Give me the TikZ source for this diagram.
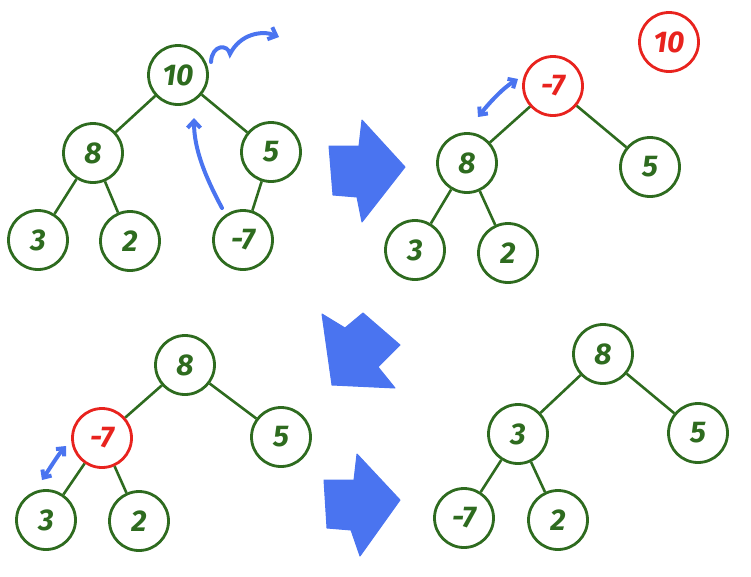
\documentclass[tikz,border=0pt]{standalone}
\usepackage{fontspec}
\setmainfont{Fira Sans}
\usetikzlibrary{arrows.meta}
\definecolor{tgreen}{HTML}{2E6B1F}
\definecolor{tred}{HTML}{E8231E}
\definecolor{tblue}{HTML}{4A74F0}
\begin{document}
\begin{tikzpicture}[x=1pt,y=-1pt,
  hnode/.style={circle,draw=tgreen,line width=2.8pt,minimum size=59pt,inner sep=0pt,text=tgreen,font=\fontsize{30}{30}\selectfont\bfseries\itshape},
  rnode/.style={hnode,draw=tred,text=tred},
  edge/.style={tgreen,line width=2.6pt},
  bigarrow/.style={fill=tblue,draw=tblue,line width=1pt,line join=round},
  swap/.style={tblue,line width=4pt,line cap=round,{Straight Barb[length=6pt,width=11pt]}-{Straight Barb[length=6pt,width=11pt]}},
  move/.style={tblue,line width=4pt,line cap=round,-{Straight Barb[length=7pt,width=13pt]}}]
\useasboundingbox (0,0) rectangle (751,576);
% ---- tree 1 (top left)
\node[hnode] (a10) at (178,75) {10};
\node[hnode] (a8) at (93,153) {8};
\node[hnode] (a5) at (271,152) {5};
\node[hnode] (a3) at (38,240) {3};
\node[hnode] (a2) at (130,241) {2};
\node[hnode] (am7) at (243,240) {-7};
\draw[edge] (a10) -- (a8);
\draw[edge] (a10) -- (a5);
\draw[edge] (a8) -- (a3);
\draw[edge] (a8) -- (a2);
\draw[edge] (a5) -- (am7);
\coordinate (up1) at (222,208);
\coordinate (up2) at (194,118);
\draw[move] (up1) .. controls (206,178) and (194,150) .. (up2);
\coordinate (c1) at (211,62);
\coordinate (c2) at (279,37);
\draw[move] (c1) .. controls (212,44) and (228,44) .. (230,54) .. controls (240,34) and (262,30) .. (c2);
% ---- big arrows
\fill[bigarrow] (329,146) -- (359,146) -- (362,120) -- (405,167) -- (362,222) -- (357,197) -- (333,195) -- cycle;
\fill[bigarrow] (322,314) -- (345,328) -- (363,313) -- (400,345) -- (378,367) -- (395,388) -- (332,385) -- cycle;
\fill[bigarrow] (324,480) -- (354,480) -- (357,454) -- (400,500) -- (360,556) -- (351,530) -- (327,528) -- cycle;
% ---- tree 2 (top right)
\node[rnode] (b10) at (669,42) {10};
\node[rnode] (bm7) at (553,86) {-7};
\node[hnode] (b8) at (467,163) {8};
\node[hnode] (b5) at (650,167) {5};
\node[hnode] (b3) at (415,250) {3};
\node[hnode] (b2) at (508,253) {2};
\draw[edge] (bm7) -- (b8);
\draw[edge] (bm7) -- (b5);
\draw[edge] (b8) -- (b3);
\draw[edge] (b8) -- (b2);
\coordinate (s1) at (478,117);
\coordinate (s2) at (518,79);
\draw[swap] (s1) .. controls (490,102) and (503,88) .. (s2);
% ---- tree 3 (bottom left)
\node[hnode] (c8) at (185,365) {8};
\node[rnode] (cm7) at (102,438) {-7};
\node[hnode] (c5) at (281,437) {5};
\node[hnode] (c3) at (46,520) {3};
\node[hnode] (c2) at (139,521) {2};
\draw[edge] (c8) -- (cm7);
\draw[edge] (c8) -- (c5);
\draw[edge] (cm7) -- (c3);
\draw[edge] (cm7) -- (c2);
\coordinate (t1) at (42,480);
\coordinate (t2) at (66,446);
\draw[swap] (t1) .. controls (50,468) and (58,455) .. (t2);
% ---- tree 4 (bottom right)
\node[hnode] (d8) at (603,354) {8};
\node[hnode] (d3) at (518,434) {3};
\node[hnode] (d5) at (698,433) {5};
\node[hnode] (dm7) at (464,518) {-7};
\node[hnode] (d2) at (558,520) {2};
\draw[edge] (d8) -- (d3);
\draw[edge] (d8) -- (d5);
\draw[edge] (d3) -- (dm7);
\draw[edge] (d3) -- (d2);
\end{tikzpicture}
\end{document}
